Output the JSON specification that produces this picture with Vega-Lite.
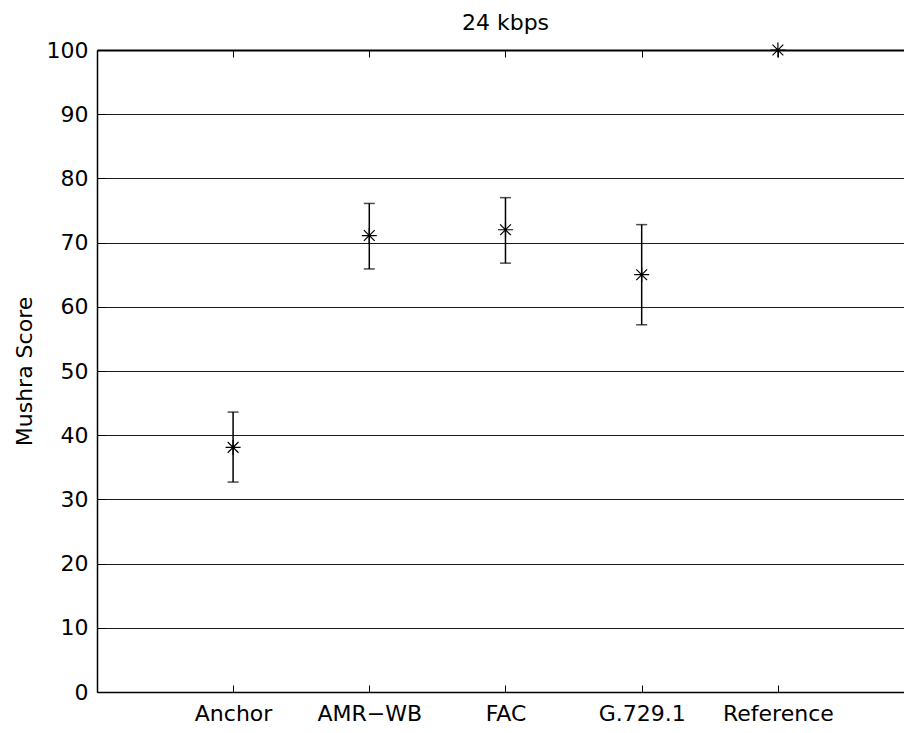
{
  "$schema": "https://vega.github.io/schema/vega-lite/v6.json",
  "autosize": {"type": "none"},
  "padding": {"left": 97, "top": 50, "right": 0, "bottom": 41},
  "width": 807,
  "height": 642,
  "background": "white",
  "config": {
    "font": "DejaVu Sans",
    "view": {"stroke": null},
    "axis": {"labelFont": "DejaVu Sans", "titleFont": "DejaVu Sans", "labelColor": "black", "titleColor": "black", "labelFontWeight": "normal", "titleFontWeight": "normal"}
  },
  "title": {"text": "24 kbps", "font": "DejaVu Sans", "fontSize": 22, "fontWeight": "normal", "color": "black", "offset": 4, "dx": 5},
  "data": {
    "values": [
      {"codec": "Anchor", "score": 38.1, "lo": 32.7, "hi": 43.6},
      {"codec": "AMR−WB", "score": 71.1, "lo": 65.9, "hi": 76.1},
      {"codec": "FAC", "score": 72.0, "lo": 66.8, "hi": 77.0},
      {"codec": "G.729.1", "score": 65.0, "lo": 57.2, "hi": 72.8},
      {"codec": "Reference", "score": 100, "lo": null, "hi": null}
    ]
  },
  "encoding": {
    "x": {
      "field": "codec",
      "type": "ordinal",
      "sort": null,
      "scale": {"type": "point", "padding": 0.9626, "align": 0.519},
      "axis": null
    }
  },
  "layer": [
    {
      "mark": {"type": "rule", "color": "black", "strokeWidth": 1.5},
      "transform": [{"filter": "datum.lo != null"}],
      "encoding": {
        "y": {"field": "lo", "type": "quantitative"},
        "y2": {"field": "hi"}
      }
    },
    {
      "mark": {"type": "tick", "color": "black", "thickness": 1.5, "size": 11, "orient": "horizontal"},
      "transform": [{"filter": "datum.lo != null"}],
      "encoding": {"y": {"field": "lo", "type": "quantitative"}}
    },
    {
      "mark": {"type": "tick", "color": "black", "thickness": 1.5, "size": 11, "orient": "horizontal"},
      "transform": [{"filter": "datum.lo != null"}],
      "encoding": {"y": {"field": "hi", "type": "quantitative"}}
    },
    {
      "mark": {
        "type": "point",
        "shape": "M-1,0L1,0M0,-1L0,1M-0.72,-0.72L0.72,0.72M-0.72,0.72L0.72,-0.72",
        "filled": false, "stroke": "black", "strokeWidth": 1.2, "size": 225, "opacity": 1
      },
      "encoding": {
        "x": {
          "field": "codec", "type": "ordinal", "sort": null,
          "axis": {
            "orient": "bottom", "title": null, "labelAngle": 0, "labelFontSize": 22, "labelFontWeight": "normal",
            "tickSize": -7, "tickColor": "black", "domainColor": "black", "domainWidth": 1.5,
            "labelPadding": 18, "grid": false
          }
        },
        "y": {
          "field": "score", "type": "quantitative",
          "scale": {"domain": [0, 100], "nice": false, "zero": true},
          "axis": {
            "orient": "left", "title": "Mushra Score", "titleFontSize": 22, "titleFontWeight": "normal",
            "titlePadding": 10, "values": [0, 10, 20, 30, 40, 50, 60, 70, 80, 90, 100],
            "labelFontSize": 22, "labelFontWeight": "normal", "tickSize": -8, "tickColor": "black", "domainColor": "black", "domainWidth": 1.5,
            "labelPadding": 17, "grid": true, "gridColor": "#1a1a1a", "gridWidth": 1
          }
        }
      }
    },
    {
      "mark": {"type": "point", "opacity": 0},
      "encoding": {
        "x": {
          "field": "codec", "type": "ordinal", "sort": null,
          "axis": {"orient": "top", "title": null, "labels": false, "tickSize": -7, "tickColor": "black", "domainColor": "black", "domainWidth": 2, "grid": false}
        },
        "y": {"field": "score", "type": "quantitative"}
      }
    }
  ],
  "resolve": {"axis": {"x": "independent"}}
}
